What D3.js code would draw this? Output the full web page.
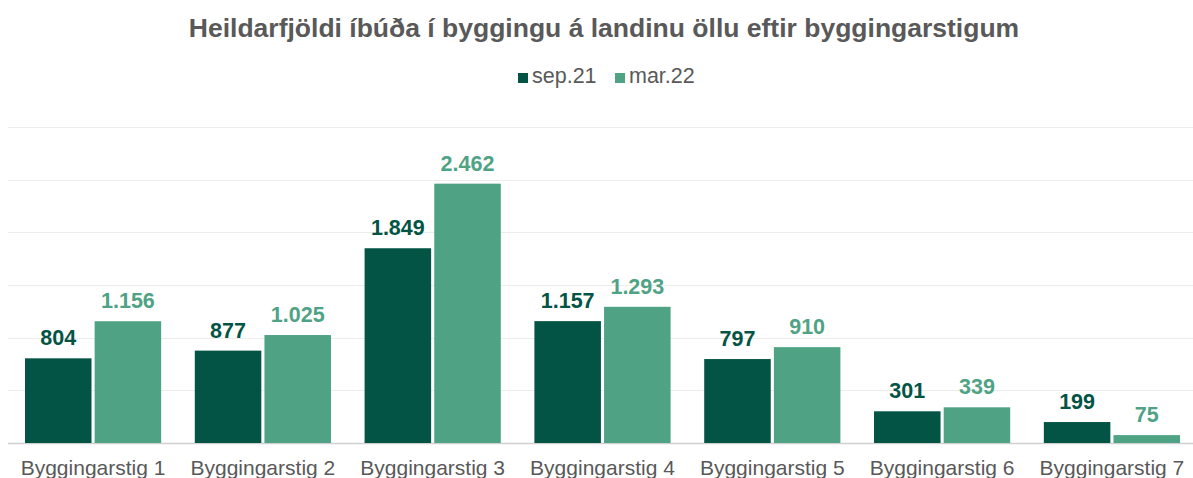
<!DOCTYPE html>
<html lang="is">
<head>
<meta charset="utf-8">
<title>Heildarfjöldi íbúða</title>
<script src="https://cdn.jsdelivr.net/npm/d3@7"></script>
<style>
  body { margin: 0; background: #fff; }
  svg { display: block; font-family: "Liberation Sans", Arial, sans-serif; }
</style>
</head>
<body>
<script>
// gögn
var categories = ["Byggingarstig 1", "Byggingarstig 2", "Byggingarstig 3", "Byggingarstig 4",
                  "Byggingarstig 5", "Byggingarstig 6", "Byggingarstig 7"];
var seriesNames = ["sep.21", "mar.22"];
var sep21 = [804, 877, 1849, 1157, 797, 301, 199];
var mar22 = [1156, 1025, 2462, 1293, 910, 339, 75];
var gridTicks = [0, 500, 1000, 1500, 2000, 2500, 3000];
var colors = ["#035445", "#4fa384"];

var w = 1193, h = 478;
var margin = {top: 127, right: 0, bottom: 35, left: 8};

var svg = d3.select("body").append("svg").attr("width", w).attr("height", h);

var x0 = d3.scaleBand().domain(categories).range([margin.left, w + 4]).paddingInner(0.198).paddingOuter(0.1);
var x1 = d3.scaleBand().domain(seriesNames).range([0, x0.bandwidth()]).paddingInner(0.045).paddingOuter(0);
var y = d3.scaleLinear().domain([0, 3000]).range([h - margin.bottom, margin.top]);

// gridlines
svg.append("g").selectAll("line").data(gridTicks).enter().append("line")
  .attr("x1", margin.left).attr("x2", w - margin.right)
  .attr("y1", function(d) { return Math.round(y(d)) + 0.5; })
  .attr("y2", function(d) { return Math.round(y(d)) + 0.5; })
  .attr("stroke", function(d) { return d === 0 ? "#d0d0d0" : "#ececec"; })
  .attr("stroke-width", function(d) { return d === 0 ? 1.5 : 1; });

var rows = categories.map(function(c, i) {
  return {cat: c, vals: [{s: seriesNames[0], v: sep21[i], k: 0}, {s: seriesNames[1], v: mar22[i], k: 1}]};
});

var groups = svg.selectAll("g.cat").data(rows).enter().append("g")
  .attr("class", "cat")
  .attr("transform", function(d) { return "translate(" + x0(d.cat) + ",0)"; });

groups.selectAll("rect").data(function(d) { return d.vals; }).enter().append("rect")
  .attr("x", function(d) { return x1(d.s); })
  .attr("y", function(d) { return y(d.v); })
  .attr("width", x1.bandwidth())
  .attr("height", function(d) { return y(0) - y(d.v); })
  .attr("fill", function(d) { return colors[d.k]; });

groups.selectAll("text").data(function(d) { return d.vals; }).enter().append("text")
  .attr("x", function(d) { return x1(d.s) + x1.bandwidth() / 2; })
  .attr("y", function(d) { return y(d.v) - 13; })
  .attr("text-anchor", "middle")
  .attr("font-size", "21.5px")
  .attr("font-weight", "bold")
  .attr("fill", function(d) { return colors[d.k]; })
  .text(function(d) { return d3.format(",")(d.v).replace(/,/g, "."); });

// category labels
svg.append("g").selectAll("text").data(categories).enter().append("text")
  .attr("x", function(d) { return x0(d) + x0.bandwidth() / 2; })
  .attr("y", 475)
  .attr("text-anchor", "middle")
  .attr("font-size", "21px")
  .attr("fill", "#595959")
  .text(function(d) { return d; });

// title
svg.append("text")
  .attr("x", 604).attr("y", 37)
  .attr("text-anchor", "middle")
  .attr("font-size", "26.5px")
  .attr("font-weight", "bold")
  .attr("fill", "#595959")
  .text("Heildarfjöldi íbúða í byggingu á landinu öllu eftir byggingarstigum");

// legend
var legend = svg.append("g");
var lx = [518, 615];
seriesNames.forEach(function(s, i) {
  legend.append("rect").attr("x", lx[i]).attr("y", 73).attr("width", 10).attr("height", 10).attr("fill", colors[i]);
  legend.append("text").attr("x", lx[i] + 14).attr("y", 83)
    .attr("font-size", "21.5px").attr("fill", "#595959").text(s);
});
</script>
</body>
</html>
